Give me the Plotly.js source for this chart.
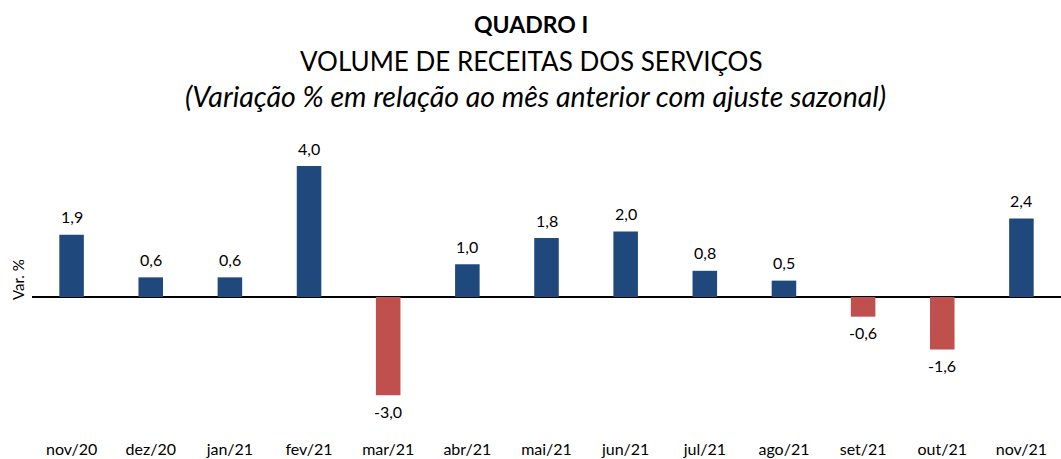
<!DOCTYPE html>
<html>
<head>
<meta charset="utf-8">
<script src="https://cdn.plot.ly/plotly-3.0.1.min.js"></script>
<style>html,body{margin:0;padding:0;background:#fff;}#chart{width:1061px;height:459px;}</style>
</head>
<body>
<div id="chart"></div>
<script>
const categories = ["nov/20","dez/20","jan/21","fev/21","mar/21","abr/21","mai/21","jun/21","jul/21","ago/21","set/21","out/21","nov/21"];
const values = [1.9, 0.6, 0.6, 4.0, -3.0, 1.0, 1.8, 2.0, 0.8, 0.5, -0.6, -1.6, 2.4];
const labels = ["1,9","0,6","0,6","4,0","-3,0","1,0","1,8","2,0","0,8","0,5","-0,6","-1,6","2,4"];
const titleLines = ["QUADRO I", "VOLUME DE RECEITAS DOS SERVIÇOS", "(Variação % em relação ao mês anterior com ajuste sazonal)"];
const yTitle = "Var. %";

const BLUE = "#1F497D", RED = "#C0504D";
const FONT = "Lato, 'Open Sans', sans-serif";

const trace = {
  type: "bar",
  x: categories,
  y: values,
  marker: {color: values.map(v => v >= 0 ? BLUE : RED), line: {width: 0}},
  hoverinfo: "skip"
};

const annotations = categories.map((c, i) => ({
  x: c, y: values[i], xref: "x", yref: "y",
  text: labels[i], showarrow: false,
  yanchor: "middle", yshift: values[i] >= 0 ? 18 : -16,
  font: {family: FONT, size: 16, color: "#000"}
}));

annotations.push(
  {xref: "paper", yref: "paper", x: 0.485, y: 1.389, text: "<b>" + titleLines[0] + "</b>", showarrow: false, yanchor: "middle", font: {family: FONT, size: 23, color: "#000"}},
  {xref: "paper", yref: "paper", x: 0.485, y: 1.265, text: titleLines[1], showarrow: false, yanchor: "middle", font: {family: FONT, size: 26, color: "#000"}},
  {xref: "paper", yref: "paper", x: 0.489, y: 1.147, text: "<i>" + titleLines[2] + "</i>", showarrow: false, yanchor: "middle", font: {family: FONT, size: 28.5, color: "#000"}},
  {xref: "paper", yref: "paper", x: -0.0136, y: 0.53, text: yTitle, showarrow: false, textangle: -90, xanchor: "center", yanchor: "middle", font: {family: FONT, size: 15, color: "#000"}}
);

const layout = {
  width: 1061, height: 459,
  margin: {l: 32, r: 0, t: 140, b: 21, pad: 0},
  paper_bgcolor: "#fff", plot_bgcolor: "#fff",
  showlegend: false,
  bargap: 0.69,
  xaxis: {
    type: "category", showgrid: false, showline: false, ticks: "", zeroline: false,
    tickfont: {family: FONT, size: 16, color: "#000"}, automargin: false, fixedrange: true
  },
  yaxis: {
    range: [-4.305, 4.794], showgrid: false, showticklabels: false, ticks: "",
    zeroline: true, zerolinecolor: "#000", zerolinewidth: 1.3, showline: false, automargin: false, fixedrange: true
  },
  annotations: annotations
};

Plotly.newPlot("chart", [trace], layout, {displayModeBar: false, staticPlot: true});
</script>
</body>
</html>
